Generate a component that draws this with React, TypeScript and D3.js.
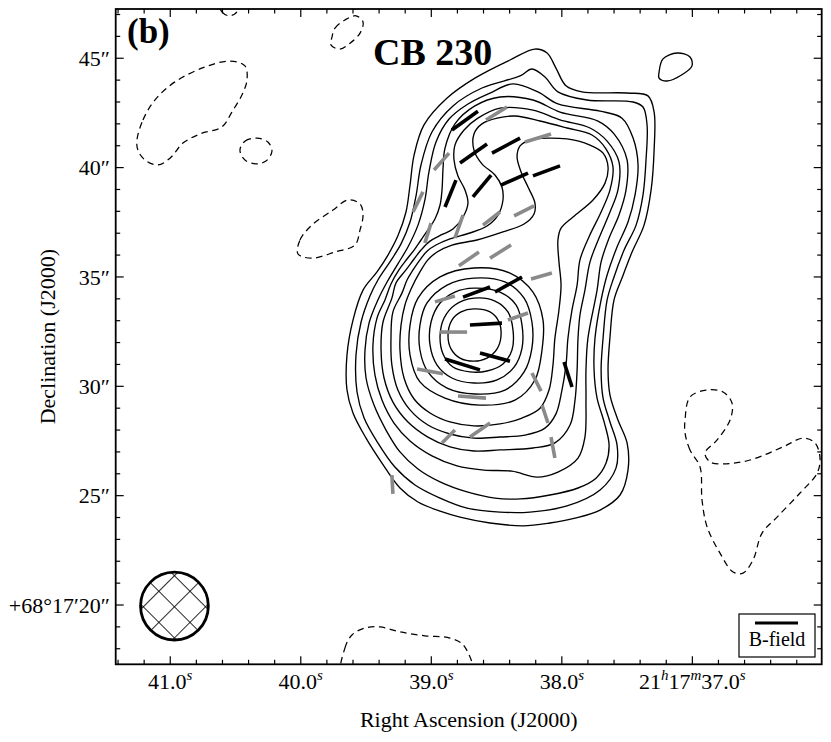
import React from 'react';
import * as d3 from 'd3';

type P = [number, number];
type Seg = [number, number, number, number];

// Axis frame in data units: RA seconds of 21h17m, Dec arcsec offset from +68°17'00"
const raDomain: [number, number] = [41.418, 36.009];
const decDomain: [number, number] = [47.252, 17.289];

const raMajorTicks = [41, 40, 39, 38, 37];
const raTickLabels: [string, string][][] = [
  [['41.0', 's']],
  [['40.0', 's']],
  [['39.0', 's']],
  [['38.0', 's']],
  [['21', 'h'], ['17', 'm'], ['37.0', 's']],
];
const decMajorTicks = [20, 25, 30, 35, 40, 45];
const decTickLabels = ['+68°17′20″', '25″', '30″', '35″', '40″', '45″'];

// Positive (solid) contours, outermost to innermost
const contourL1: P[] = [
  [38.206,45.42],[38.113,45.24],[38.045,44.55],[37.968,43.74],[37.846,43.46],[37.500,43.41],[37.340,43.28],[37.293,42.54],[37.293,40.80],[37.316,38.98],[37.370,37.37],[37.462,36.14],[37.539,34.95],[37.600,33.95],[37.631,32.25],[37.646,30.75],[37.631,29.60],[37.570,28.46],[37.500,27.41],[37.493,26.17],[37.554,25.03],[37.707,24.34],[37.899,23.97],[38.091,23.75],[38.297,23.62],[38.550,23.75],[38.780,24.02],[38.933,24.29],[39.102,24.71],[39.240,25.35],[39.378,26.49],[39.500,27.63],[39.600,28.78],[39.646,29.83],[39.646,31.43],[39.600,33.03],[39.523,34.40],[39.416,35.23],[39.332,36.00],[39.256,36.88],[39.194,37.97],[39.163,39.20],[39.132,40.57],[39.056,41.95],[38.879,43.18],[38.666,44.09],[38.397,44.92],
];
const contourL2: P[] = [
  [38.320,44.19],[38.229,44.51],[38.129,44.14],[38.030,43.46],[37.807,43.09],[37.454,43.00],[37.378,42.77],[37.347,41.95],[37.355,40.35],[37.378,38.75],[37.431,37.37],[37.523,36.23],[37.600,35.00],[37.653,33.95],[37.684,32.20],[37.699,30.75],[37.684,29.46],[37.631,28.37],[37.577,27.32],[37.585,26.26],[37.707,25.26],[37.960,24.53],[38.244,24.25],[38.474,24.25],[38.726,24.43],[38.933,24.89],[39.125,25.49],[39.279,26.31],[39.409,27.41],[39.515,28.55],[39.569,29.74],[39.577,31.43],[39.538,32.94],[39.470,34.13],[39.409,34.86],[39.317,35.69],[39.232,36.51],[39.163,37.51],[39.117,38.71],[39.079,40.12],[38.995,41.63],[38.834,42.82],[38.612,43.64],
];
const contourL3: P[] = [
  [38.550,43.41],[38.374,43.83],[38.183,43.46],[38.030,42.91],[37.707,42.58],[37.539,42.26],[37.454,41.35],[37.416,40.12],[37.439,38.75],[37.493,37.51],[37.577,36.37],[37.653,35.09],[37.699,33.95],[37.746,32.20],[37.753,30.75],[37.730,29.46],[37.676,28.37],[37.638,27.32],[37.661,26.49],[37.738,25.80],[37.876,25.35],[38.091,25.03],[38.320,24.85],[38.512,24.89],[38.726,25.17],[38.933,25.63],[39.102,26.22],[39.240,27.00],[39.347,28.00],[39.439,29.14],[39.500,30.38],[39.508,31.66],[39.477,32.89],[39.409,33.95],[39.339,34.77],[39.256,35.60],[39.179,36.37],[39.102,37.37],[39.049,38.52],[39.018,39.80],[38.964,41.17],[38.864,42.22],[38.719,42.91],
];
const contourL4: P[] = [
  [38.666,42.82],[38.474,43.23],[38.221,43.09],[38.014,42.54],[37.723,42.13],[37.600,41.54],[37.500,40.35],[37.508,38.98],[37.562,37.83],[37.638,36.78],[37.699,35.69],[37.730,34.40],[37.800,32.20],[37.815,30.75],[37.815,29.37],[37.823,27.68],[37.876,26.72],[38.030,26.08],[38.190,25.85],[38.382,26.12],[38.596,26.17],[38.803,26.36],[38.995,26.82],[39.163,27.50],[39.286,28.32],[39.378,29.37],[39.432,30.52],[39.447,31.89],[39.416,33.12],[39.355,33.95],[39.309,34.68],[39.248,35.32],[39.186,35.82],[39.132,36.23],[39.079,36.69],[39.026,37.15],[38.972,37.65],[38.933,38.29],[38.918,38.98],[38.910,39.98],[38.895,40.89],[38.819,42.00],
];
const contourL5: P[] = [
  [38.643,42.26],[38.474,42.72],[38.221,42.63],[38.014,42.18],[37.784,41.81],[37.653,41.21],[37.562,40.26],[37.570,38.98],[37.631,37.97],[37.715,36.78],[37.784,35.69],[37.823,34.40],[37.861,33.26],[37.876,32.20],[37.883,30.75],[37.899,29.37],[37.937,28.23],[38.053,27.41],[38.221,27.18],[38.474,27.09],[38.673,27.04],[38.857,27.23],[39.026,27.68],[39.179,28.37],[39.294,29.28],[39.362,30.38],[39.385,31.66],[39.370,32.94],[39.302,34.03],[39.271,34.72],[39.194,35.32],[39.132,35.82],[39.079,36.23],[39.010,36.64],[38.925,36.92],[38.834,37.19],[38.757,37.74],[38.719,38.38],[38.742,38.98],[38.796,39.62],[38.826,40.35],[38.819,41.03],[38.749,41.72],
];
const contourL6: P[] = [
  [38.612,42.00],[38.496,42.26],[38.359,42.36],[38.167,42.13],[37.960,41.81],[37.769,41.49],[37.661,40.85],[37.608,40.03],[37.631,38.98],[37.699,37.97],[37.792,36.83],[37.861,35.78],[37.883,34.63],[37.922,33.49],[37.953,32.20],[37.968,30.97],[37.999,29.83],[38.045,28.74],[38.129,28.09],[38.282,27.77],[38.474,27.68],[38.673,27.63],[38.857,27.82],[39.026,28.23],[39.163,28.92],[39.256,29.83],[39.302,30.97],[39.309,32.20],[39.294,33.40],[39.225,34.26],[39.186,34.86],[39.140,35.32],[39.087,35.78],[39.033,36.18],[38.964,36.46],[38.857,36.74],[38.704,37.01],[38.573,37.33],[38.489,37.83],[38.451,38.52],[38.459,39.11],[38.512,39.66],[38.612,40.17],[38.673,40.80],[38.673,41.54],
];
const contourL7: P[] = [
  [39.240,31.66],[39.232,32.80],[39.202,33.72],[39.155,34.45],[39.087,35.23],[39.026,35.78],[38.956,36.14],[38.842,36.46],[38.650,36.69],[38.451,37.06],[38.289,37.42],[38.213,37.88],[38.206,38.38],[38.259,39.11],[38.312,39.80],[38.343,40.48],[38.320,40.99],[38.244,41.26],[37.960,41.31],[37.784,41.03],[37.684,40.66],[37.646,40.03],[37.669,39.29],[37.761,38.52],[37.914,37.74],[38.006,37.23],[38.030,36.69],[38.022,35.69],[38.006,34.63],[38.022,33.49],[38.053,32.20],[38.068,30.97],[38.098,29.83],[38.167,29.00],[38.305,28.55],[38.474,28.28],[38.673,28.19],[38.857,28.37],[39.010,28.78],[39.132,29.42],[39.209,30.38],
];
const contourL8: P[] = [
  [38.673,35.41],[38.397,35.18],[38.221,34.31],[38.144,33.03],[38.152,31.66],[38.206,30.29],[38.359,29.37],[38.627,29.14],[38.895,29.46],[39.087,30.20],[39.163,31.43],[39.163,32.80],[39.102,34.03],[38.933,35.00],
];
const contourL9: P[] = [
  [38.673,34.95],[38.436,34.77],[38.289,34.03],[38.229,32.94],[38.229,31.75],[38.289,30.66],[38.436,29.83],[38.666,29.65],[38.879,29.92],[39.026,30.66],[39.087,31.66],[39.087,32.80],[39.033,33.81],[38.879,34.63],
];
const contourL10: P[] = [
  [38.673,34.49],[38.474,34.31],[38.351,33.72],[38.305,32.80],[38.305,31.75],[38.366,30.88],[38.496,30.29],[38.673,30.15],[38.842,30.38],[38.956,30.97],[39.010,31.89],[39.002,32.94],[38.933,33.81],[38.819,34.31],
];
const contourL11: P[] = [
  [38.673,34.03],[38.512,33.90],[38.413,33.40],[38.374,32.57],[38.382,31.66],[38.451,31.02],[38.573,30.70],[38.704,30.66],[38.834,30.88],[38.910,31.48],[38.933,32.30],[38.902,33.12],[38.819,33.72],
];
const contourL12: P[] = [
  [38.673,33.54],[38.550,33.40],[38.481,32.94],[38.466,32.30],[38.496,31.71],[38.573,31.29],[38.673,31.15],[38.780,31.29],[38.849,31.71],[38.872,32.34],[38.842,33.03],[38.772,33.40],
];
const positiveIsland: P[] = [
  [37.255,44.37],[37.225,44.97],[37.117,45.24],[37.018,45.06],[37.003,44.65],[37.071,44.28],[37.194,43.96],[37.255,44.09],
];

// Negative (dashed) contours
const negTopEdge: P[] = [[40.627,47.57],[40.604,47.12],[40.550,46.94],[40.497,47.07],[40.466,47.57]];
const negNorth: P[] = [[39.761,45.97],[39.738,46.38],[39.662,46.75],[39.577,46.94],[39.523,46.66],[39.546,46.15],[39.623,45.69],[39.700,45.42],[39.768,45.60]];
const negWestBig: P[] = [[41.255,41.26],[41.209,42.18],[41.118,43.09],[40.964,43.92],[40.734,44.60],[40.543,44.87],[40.428,44.65],[40.412,44.01],[40.451,43.32],[40.528,42.54],[40.604,41.86],[40.772,41.54],[40.903,41.12],[41.002,40.43],[41.095,40.12],[41.194,40.35],[41.248,40.80]];
const negWestSmall: P[] = [[40.466,40.80],[40.428,41.21],[40.335,41.35],[40.252,41.17],[40.221,40.75],[40.267,40.30],[40.343,40.17],[40.428,40.35]];
const negMid: P[] = [[40.021,36.05],[40.006,36.69],[39.915,37.37],[39.753,38.06],[39.639,38.52],[39.546,38.34],[39.523,37.83],[39.546,37.15],[39.585,36.46],[39.738,36.14],[39.915,35.86]];
const negSouth: P[] = [[39.677,16.57],[39.662,18.03],[39.608,18.63],[39.508,18.95],[39.393,19.00],[39.240,18.77],[39.049,18.59],[38.857,18.49],[38.749,18.13],[38.689,16.57]];
const negEast: P[] = [[36.941,26.31],[37.018,27.09],[37.056,27.86],[37.056,28.46],[37.018,29.51],[36.887,29.83],[36.765,29.74],[36.696,29.23],[36.711,28.46],[36.810,27.55],[36.903,26.95],[36.864,26.54],[36.765,26.45],[36.558,26.63],[36.305,27.23],[36.152,27.63],[36.060,27.41],[36.022,26.72],[36.044,26.03],[36.175,25.12],[36.351,24.02],[36.466,23.29],[36.535,22.06],[36.612,21.46],[36.688,21.51],[36.788,22.37],[36.887,23.57],[36.926,24.80]];

// Polarization segments [ra1, dec1, ra2, dec2]
const bFieldBlack: Seg[] = [
  [38.842,41.72,38.643,42.58],[38.780,40.21,38.573,41.08],[38.535,40.66,38.320,41.35],[38.895,38.20,38.811,39.43],[38.681,38.66,38.542,39.66],[38.466,39.20,38.259,39.75],[38.221,39.62,38.014,40.08],[38.757,34.08,38.550,34.54],[38.512,34.31,38.305,35.00],[38.704,32.80,38.459,32.89],[38.895,31.25,38.627,30.75],[38.627,31.52,38.397,31.15],[37.983,31.11,37.922,29.97],
];
const bFieldGrey: Seg[] = [
  [38.581,42.18,38.420,42.77],[38.282,41.17,38.083,41.54],[38.979,39.89,38.864,40.66],[39.140,37.97,39.064,38.89],[39.049,36.55,39.002,37.46],[38.819,36.78,38.757,37.83],[38.604,37.37,38.474,37.97],[38.366,37.79,38.213,38.25],[38.788,35.51,38.635,36.14],[38.550,35.86,38.389,36.46],[38.236,34.91,38.076,35.18],[38.972,33.86,38.819,34.13],[38.933,32.48,38.726,32.48],[38.413,33.03,38.259,33.35],[39.109,30.79,38.910,30.57],[38.796,29.56,38.581,29.46],[38.229,30.61,38.159,29.78],[38.152,29.14,38.106,28.32],[38.083,27.68,38.053,26.72],[38.918,27.41,38.819,28.00],[38.704,27.68,38.550,28.32],[39.302,25.94,39.294,25.08],
];

// Synthesized beam: centre (RA s, Dec ″) and diameter (″)
const beamCentre: P = [40.968, 19.95];
const beamDiameter = 3.1;

const W = 831, H = 742;
const X0 = 115.7, X1 = 821.7, Y0 = 9, Y1 = 664.3;
const FONT = '"Liberation Serif", "DejaVu Serif", serif';

export default function App() {
  const x = d3.scaleLinear().domain(raDomain).range([X0, X1]);
  const y = d3.scaleLinear().domain(decDomain).range([Y0, Y1]);
  const path = d3.line<P>().x(d => x(d[0])).y(d => y(d[1])).curve(d3.curveCatmullRomClosed.alpha(0.5));

  const solid = [contourL1, contourL2, contourL3, contourL4, contourL5, contourL6, contourL7, contourL8, contourL9, contourL10, contourL11, contourL12, positiveIsland];
  const dashed = [negTopEdge, negNorth, negWestBig, negWestSmall, negMid, negSouth, negEast];

  const raMinor = d3.range(181, 208).map(i => i * 0.2);
  const decMinor = d3.range(18, 48);
  const maj = 8, min = 4.5;

  const bx = x(beamCentre[0]), by = y(beamCentre[1]);
  const br = Math.abs(y(beamCentre[1] + beamDiameter / 2) - by);

  return (
    <svg width={W} height={H} style={{ position: 'absolute', left: 0, top: 0, background: '#fff' }} fontFamily={FONT}>
      <defs>
        <clipPath id="plot"><rect x={X0} y={Y0} width={X1 - X0} height={Y1 - Y0} /></clipPath>
        <pattern id="hatch" width={22} height={22} patternUnits="userSpaceOnUse" patternTransform={`translate(${bx},${by}) rotate(45)`}>
          <line x1={0} y1={0} x2={22} y2={0} stroke="#000" strokeWidth={1.7} />
          <line x1={0} y1={0} x2={0} y2={22} stroke="#000" strokeWidth={1.7} />
        </pattern>
      </defs>
      <rect x={0} y={0} width={W} height={H} fill="#fff" />
      <g clipPath="url(#plot)">
        {solid.map((c, i) => (
          <path key={'s' + i} d={path(c) || ''} fill="none" stroke="#000" strokeWidth={1.35} />
        ))}
        {dashed.map((c, i) => (
          <path key={'d' + i} d={path(c) || ''} fill="none" stroke="#000" strokeWidth={1.25} strokeDasharray="6.5 4.5" />
        ))}
        {bFieldGrey.map((s, i) => (
          <line key={'g' + i} x1={x(s[0])} y1={y(s[1])} x2={x(s[2])} y2={y(s[3])} stroke="#8a8a8a" strokeWidth={3.6} />
        ))}
        {bFieldBlack.map((s, i) => (
          <line key={'b' + i} x1={x(s[0])} y1={y(s[1])} x2={x(s[2])} y2={y(s[3])} stroke="#000" strokeWidth={3.6} />
        ))}
        <circle cx={bx} cy={by} r={br} fill="url(#hatch)" />
        <circle cx={bx} cy={by} r={br} fill="none" stroke="#000" strokeWidth={2.8} />
      </g>

      {/* ticks */}
      <g stroke="#000" strokeWidth={1.2}>
        {raMinor.map((v, i) => {
          const isMaj = raMajorTicks.some(m => Math.abs(m - v) < 1e-6);
          const L = isMaj ? maj : min;
          return (
            <g key={'rt' + i}>
              <line x1={x(v)} x2={x(v)} y1={Y1} y2={Y1 - L} />
              <line x1={x(v)} x2={x(v)} y1={Y0} y2={Y0 + L} />
            </g>
          );
        })}
        {decMinor.map((v, i) => {
          const L = decMajorTicks.includes(v) ? maj : min;
          return (
            <g key={'dt' + i}>
              <line x1={X0} x2={X0 + L} y1={y(v)} y2={y(v)} />
              <line x1={X1} x2={X1 - L} y1={y(v)} y2={y(v)} />
            </g>
          );
        })}
      </g>
      <rect x={X0} y={Y0} width={X1 - X0} height={Y1 - Y0} fill="none" stroke="#000" strokeWidth={1.8} />

      {/* tick labels */}
      {raMajorTicks.map((v, i) => (
        <text key={'rl' + i} x={x(v)} y={689} textAnchor="middle" fontSize={22} fill="#000">
          {raTickLabels[i].map(([t, s], j) => (
            <React.Fragment key={j}>
              <tspan dy={j === 0 ? 0 : 9}>{t}</tspan>
              <tspan dy={-9} fontSize={15} fontStyle="italic">{s}</tspan>
            </React.Fragment>
          ))}
        </text>
      ))}
      {decMajorTicks.map((v, i) => (
        <text key={'dl' + i} x={110} y={y(v)} dy="0.35em" textAnchor="end" fontSize={22} fill="#000">{decTickLabels[i]}</text>
      ))}

      <text x={(X0 + X1) / 2} y={727} textAnchor="middle" fontSize={22} fill="#000">Right Ascension (J2000)</text>
      <text transform={`translate(55,${(Y0 + Y1) / 2}) rotate(-90)`} textAnchor="middle" fontSize={22} fill="#000">Declination (J2000)</text>

      <text x={127} y={43} fontSize={35} fontWeight="bold" fill="#000">(b)</text>
      <text x={373} y={65} fontSize={38} fontWeight="bold" fill="#000">CB 230</text>

      {/* legend */}
      <rect x={739} y={614} width={76} height={43} fill="#fff" stroke="#000" strokeWidth={1.2} />
      <line x1={755} x2={798} y1={623} y2={623} stroke="#000" strokeWidth={3.2} />
      <text x={777} y={646} textAnchor="middle" fontSize={20} fill="#000">B-field</text>
    </svg>
  );
}
